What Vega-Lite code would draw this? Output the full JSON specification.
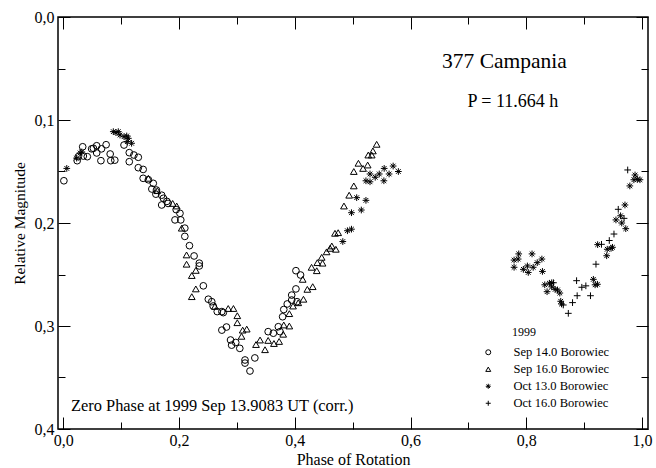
{
"$schema": "https://vega.github.io/schema/vega-lite/v6.json",
"width": 590, "height": 412,
"autosize": {"type": "none"},
"padding": {"left": 58, "top": 17, "right": 8, "bottom": 39},
"background": "white",
"config": {"view": {"stroke": "black", "strokeWidth": 1.5}, "font": "Liberation Serif"},
"datasets": {
"one": [{}],
"pts": [
{"s":"Sep 14.0 Borowiec","phase":0.001,"mag":0.159},{"s":"Sep 14.0 Borowiec","phase":0.024,"mag":0.1395},{"s":"Sep 14.0 Borowiec","phase":0.026,"mag":0.1356},{"s":"Sep 14.0 Borowiec","phase":0.0335,"mag":0.126},{"s":"Sep 14.0 Borowiec","phase":0.0346,"mag":0.135},{"s":"Sep 14.0 Borowiec","phase":0.0415,"mag":0.1356},{"s":"Sep 14.0 Borowiec","phase":0.049,"mag":0.128},{"s":"Sep 14.0 Borowiec","phase":0.052,"mag":0.1275},{"s":"Sep 14.0 Borowiec","phase":0.0577,"mag":0.125},{"s":"Sep 14.0 Borowiec","phase":0.0577,"mag":0.132},{"s":"Sep 14.0 Borowiec","phase":0.065,"mag":0.1395},{"s":"Sep 14.0 Borowiec","phase":0.066,"mag":0.128},{"s":"Sep 14.0 Borowiec","phase":0.074,"mag":0.124},{"s":"Sep 14.0 Borowiec","phase":0.081,"mag":0.133},{"s":"Sep 14.0 Borowiec","phase":0.082,"mag":0.1395},{"s":"Sep 14.0 Borowiec","phase":0.089,"mag":0.139},
{"s":"Sep 14.0 Borowiec","phase":0.1049,"mag":0.1243},{"s":"Sep 14.0 Borowiec","phase":0.114,"mag":0.1317},{"s":"Sep 14.0 Borowiec","phase":0.114,"mag":0.1405},{"s":"Sep 14.0 Borowiec","phase":0.122,"mag":0.134},{"s":"Sep 14.0 Borowiec","phase":0.1296,"mag":0.1362},{"s":"Sep 14.0 Borowiec","phase":0.1296,"mag":0.1463},{"s":"Sep 14.0 Borowiec","phase":0.138,"mag":0.148},{"s":"Sep 14.0 Borowiec","phase":0.138,"mag":0.1566},{"s":"Sep 14.0 Borowiec","phase":0.147,"mag":0.158},{"s":"Sep 14.0 Borowiec","phase":0.153,"mag":0.167},{"s":"Sep 14.0 Borowiec","phase":0.1555,"mag":0.1615},{"s":"Sep 14.0 Borowiec","phase":0.16,"mag":0.172},{"s":"Sep 14.0 Borowiec","phase":0.161,"mag":0.168},{"s":"Sep 14.0 Borowiec","phase":0.17,"mag":0.173},{"s":"Sep 14.0 Borowiec","phase":0.17,"mag":0.1825},{"s":"Sep 14.0 Borowiec","phase":0.173,"mag":0.176},{"s":"Sep 14.0 Borowiec","phase":0.179,"mag":0.179},{"s":"Sep 14.0 Borowiec","phase":0.181,"mag":0.181},{"s":"Sep 14.0 Borowiec","phase":0.193,"mag":0.197},{"s":"Sep 14.0 Borowiec","phase":0.195,"mag":0.187},{"s":"Sep 14.0 Borowiec","phase":0.2016,"mag":0.1906},{"s":"Sep 14.0 Borowiec","phase":0.203,"mag":0.197},{"s":"Sep 14.0 Borowiec","phase":0.21,"mag":0.205},{"s":"Sep 14.0 Borowiec","phase":0.21,"mag":0.213},
{"s":"Sep 14.0 Borowiec","phase":0.218,"mag":0.222},{"s":"Sep 14.0 Borowiec","phase":0.226,"mag":0.232},{"s":"Sep 14.0 Borowiec","phase":0.235,"mag":0.239},{"s":"Sep 14.0 Borowiec","phase":0.235,"mag":0.2417},{"s":"Sep 14.0 Borowiec","phase":0.242,"mag":0.261},{"s":"Sep 14.0 Borowiec","phase":0.2506,"mag":0.274},{"s":"Sep 14.0 Borowiec","phase":0.2565,"mag":0.2764},{"s":"Sep 14.0 Borowiec","phase":0.259,"mag":0.2806},{"s":"Sep 14.0 Borowiec","phase":0.266,"mag":0.286},{"s":"Sep 14.0 Borowiec","phase":0.274,"mag":0.286},{"s":"Sep 14.0 Borowiec","phase":0.2765,"mag":0.287},{"s":"Sep 14.0 Borowiec","phase":0.274,"mag":0.304},{"s":"Sep 14.0 Borowiec","phase":0.282,"mag":0.301},{"s":"Sep 14.0 Borowiec","phase":0.289,"mag":0.3136},{"s":"Sep 14.0 Borowiec","phase":0.2909,"mag":0.3186},{"s":"Sep 14.0 Borowiec","phase":0.298,"mag":0.316},{"s":"Sep 14.0 Borowiec","phase":0.305,"mag":0.3217},{"s":"Sep 14.0 Borowiec","phase":0.314,"mag":0.333},{"s":"Sep 14.0 Borowiec","phase":0.314,"mag":0.336},{"s":"Sep 14.0 Borowiec","phase":0.331,"mag":0.331},{"s":"Sep 14.0 Borowiec","phase":0.3226,"mag":0.3437},{"s":"Sep 14.0 Borowiec","phase":0.354,"mag":0.3055},{"s":"Sep 14.0 Borowiec","phase":0.363,"mag":0.307},{"s":"Sep 14.0 Borowiec","phase":0.3716,"mag":0.3007},{"s":"Sep 14.0 Borowiec","phase":0.3745,"mag":0.3055},{"s":"Sep 14.0 Borowiec","phase":0.379,"mag":0.291},{"s":"Sep 14.0 Borowiec","phase":0.381,"mag":0.284},{"s":"Sep 14.0 Borowiec","phase":0.387,"mag":0.2786},{"s":"Sep 14.0 Borowiec","phase":0.3947,"mag":0.2748},{"s":"Sep 14.0 Borowiec","phase":0.402,"mag":0.264},{"s":"Sep 14.0 Borowiec","phase":0.3947,"mag":0.27},{"s":"Sep 14.0 Borowiec","phase":0.404,"mag":0.2764},{"s":"Sep 14.0 Borowiec","phase":0.402,"mag":0.2463},{"s":"Sep 14.0 Borowiec","phase":0.41,"mag":0.2505},
{"s":"Sep 16.0 Borowiec","phase":0.147,"mag":0.1566},{"s":"Sep 16.0 Borowiec","phase":0.1625,"mag":0.1686},{"s":"Sep 16.0 Borowiec","phase":0.189,"mag":0.181},{"s":"Sep 16.0 Borowiec","phase":0.196,"mag":0.1835},{"s":"Sep 16.0 Borowiec","phase":0.2046,"mag":0.205},{"s":"Sep 16.0 Borowiec","phase":0.213,"mag":0.231},{"s":"Sep 16.0 Borowiec","phase":0.213,"mag":0.24},{"s":"Sep 16.0 Borowiec","phase":0.229,"mag":0.246},{"s":"Sep 16.0 Borowiec","phase":0.222,"mag":0.251},{"s":"Sep 16.0 Borowiec","phase":0.229,"mag":0.264},{"s":"Sep 16.0 Borowiec","phase":0.222,"mag":0.2715},{"s":"Sep 16.0 Borowiec","phase":0.262,"mag":0.281},{"s":"Sep 16.0 Borowiec","phase":0.285,"mag":0.283},{"s":"Sep 16.0 Borowiec","phase":0.294,"mag":0.283},{"s":"Sep 16.0 Borowiec","phase":0.3007,"mag":0.29},{"s":"Sep 16.0 Borowiec","phase":0.3007,"mag":0.2968},{"s":"Sep 16.0 Borowiec","phase":0.317,"mag":0.303},{"s":"Sep 16.0 Borowiec","phase":0.31,"mag":0.304},{"s":"Sep 16.0 Borowiec","phase":0.308,"mag":0.31},{"s":"Sep 16.0 Borowiec","phase":0.333,"mag":0.318},{"s":"Sep 16.0 Borowiec","phase":0.3486,"mag":0.323},{"s":"Sep 16.0 Borowiec","phase":0.34,"mag":0.3136},{"s":"Sep 16.0 Borowiec","phase":0.354,"mag":0.314},{"s":"Sep 16.0 Borowiec","phase":0.364,"mag":0.317},{"s":"Sep 16.0 Borowiec","phase":0.373,"mag":0.315},{"s":"Sep 16.0 Borowiec","phase":0.38,"mag":0.308},{"s":"Sep 16.0 Borowiec","phase":0.381,"mag":0.299},{"s":"Sep 16.0 Borowiec","phase":0.3906,"mag":0.3},{"s":"Sep 16.0 Borowiec","phase":0.3906,"mag":0.288},{"s":"Sep 16.0 Borowiec","phase":0.397,"mag":0.2806},{"s":"Sep 16.0 Borowiec","phase":0.406,"mag":0.2774},{"s":"Sep 16.0 Borowiec","phase":0.415,"mag":0.274},{"s":"Sep 16.0 Borowiec","phase":0.4137,"mag":0.2547},{"s":"Sep 16.0 Borowiec","phase":0.4217,"mag":0.2644},{"s":"Sep 16.0 Borowiec","phase":0.431,"mag":0.2618},{"s":"Sep 16.0 Borowiec","phase":0.429,"mag":0.243},{"s":"Sep 16.0 Borowiec","phase":0.438,"mag":0.2463},{"s":"Sep 16.0 Borowiec","phase":0.439,"mag":0.2385},{"s":"Sep 16.0 Borowiec","phase":0.4465,"mag":0.2333},{"s":"Sep 16.0 Borowiec","phase":0.448,"mag":0.239},{"s":"Sep 16.0 Borowiec","phase":0.455,"mag":0.228},{"s":"Sep 16.0 Borowiec","phase":0.461,"mag":0.2246},{"s":"Sep 16.0 Borowiec","phase":0.464,"mag":0.2223},{"s":"Sep 16.0 Borowiec","phase":0.471,"mag":0.2255},{"s":"Sep 16.0 Borowiec","phase":0.4695,"mag":0.21},{"s":"Sep 16.0 Borowiec","phase":0.475,"mag":0.2094},{"s":"Sep 16.0 Borowiec","phase":0.485,"mag":0.1835},{"s":"Sep 16.0 Borowiec","phase":0.494,"mag":0.173},{"s":"Sep 16.0 Borowiec","phase":0.502,"mag":0.164},{"s":"Sep 16.0 Borowiec","phase":0.502,"mag":0.15},{"s":"Sep 16.0 Borowiec","phase":0.51,"mag":0.142},{"s":"Sep 16.0 Borowiec","phase":0.518,"mag":0.147},{"s":"Sep 16.0 Borowiec","phase":0.526,"mag":0.1437},{"s":"Sep 16.0 Borowiec","phase":0.527,"mag":0.134},{"s":"Sep 16.0 Borowiec","phase":0.533,"mag":0.134},{"s":"Sep 16.0 Borowiec","phase":0.535,"mag":0.13},{"s":"Sep 16.0 Borowiec","phase":0.5415,"mag":0.1236},
{"s":"Oct 13.0 Borowiec","phase":0.006,"mag":0.147},{"s":"Oct 13.0 Borowiec","phase":0.023,"mag":0.137},{"s":"Oct 13.0 Borowiec","phase":0.029,"mag":0.132},{"s":"Oct 13.0 Borowiec","phase":0.032,"mag":0.131},{"s":"Oct 13.0 Borowiec","phase":0.0864,"mag":0.1113},{"s":"Oct 13.0 Borowiec","phase":0.091,"mag":0.1123},{"s":"Oct 13.0 Borowiec","phase":0.095,"mag":0.1113},{"s":"Oct 13.0 Borowiec","phase":0.098,"mag":0.1146},{"s":"Oct 13.0 Borowiec","phase":0.105,"mag":0.1162},{"s":"Oct 13.0 Borowiec","phase":0.1096,"mag":0.1155},{"s":"Oct 13.0 Borowiec","phase":0.1124,"mag":0.1178},{"s":"Oct 13.0 Borowiec","phase":0.1106,"mag":0.121},{"s":"Oct 13.0 Borowiec","phase":0.118,"mag":0.1226},
{"s":"Oct 13.0 Borowiec","phase":0.483,"mag":0.218},{"s":"Oct 13.0 Borowiec","phase":0.491,"mag":0.2075},{"s":"Oct 13.0 Borowiec","phase":0.498,"mag":0.206},{"s":"Oct 13.0 Borowiec","phase":0.498,"mag":0.19},{"s":"Oct 13.0 Borowiec","phase":0.507,"mag":0.1754},{"s":"Oct 13.0 Borowiec","phase":0.515,"mag":0.1874},{"s":"Oct 13.0 Borowiec","phase":0.523,"mag":0.178},{"s":"Oct 13.0 Borowiec","phase":0.523,"mag":0.159},{"s":"Oct 13.0 Borowiec","phase":0.53,"mag":0.16},{"s":"Oct 13.0 Borowiec","phase":0.53,"mag":0.1524},{"s":"Oct 13.0 Borowiec","phase":0.539,"mag":0.1556},{"s":"Oct 13.0 Borowiec","phase":0.546,"mag":0.1524},{"s":"Oct 13.0 Borowiec","phase":0.554,"mag":0.159},{"s":"Oct 13.0 Borowiec","phase":0.5545,"mag":0.147},{"s":"Oct 13.0 Borowiec","phase":0.563,"mag":0.1524},{"s":"Oct 13.0 Borowiec","phase":0.57,"mag":0.1447},{"s":"Oct 13.0 Borowiec","phase":0.579,"mag":0.15},
{"s":"Oct 13.0 Borowiec","phase":0.779,"mag":0.236},{"s":"Oct 13.0 Borowiec","phase":0.786,"mag":0.235},{"s":"Oct 13.0 Borowiec","phase":0.787,"mag":0.23},{"s":"Oct 13.0 Borowiec","phase":0.779,"mag":0.243},{"s":"Oct 13.0 Borowiec","phase":0.795,"mag":0.245},{"s":"Oct 13.0 Borowiec","phase":0.802,"mag":0.2417},{"s":"Oct 13.0 Borowiec","phase":0.8035,"mag":0.248},{"s":"Oct 13.0 Borowiec","phase":0.81,"mag":0.23},{"s":"Oct 13.0 Borowiec","phase":0.812,"mag":0.243},{"s":"Oct 13.0 Borowiec","phase":0.819,"mag":0.2385},{"s":"Oct 13.0 Borowiec","phase":0.827,"mag":0.235},{"s":"Oct 13.0 Borowiec","phase":0.828,"mag":0.247},
{"s":"Oct 13.0 Borowiec","phase":0.832,"mag":0.26},{"s":"Oct 13.0 Borowiec","phase":0.836,"mag":0.2667},{"s":"Oct 13.0 Borowiec","phase":0.84,"mag":0.2585},{"s":"Oct 13.0 Borowiec","phase":0.844,"mag":0.258},{"s":"Oct 13.0 Borowiec","phase":0.844,"mag":0.262},{"s":"Oct 13.0 Borowiec","phase":0.85,"mag":0.2644},{"s":"Oct 13.0 Borowiec","phase":0.854,"mag":0.265},{"s":"Oct 13.0 Borowiec","phase":0.858,"mag":0.268},{"s":"Oct 13.0 Borowiec","phase":0.8596,"mag":0.276},{"s":"Oct 13.0 Borowiec","phase":0.861,"mag":0.2786},
{"s":"Oct 13.0 Borowiec","phase":0.916,"mag":0.2547},{"s":"Oct 13.0 Borowiec","phase":0.919,"mag":0.26},{"s":"Oct 13.0 Borowiec","phase":0.923,"mag":0.2595},{"s":"Oct 13.0 Borowiec","phase":0.9234,"mag":0.221},{"s":"Oct 13.0 Borowiec","phase":0.939,"mag":0.2318},{"s":"Oct 13.0 Borowiec","phase":0.94,"mag":0.2255},{"s":"Oct 13.0 Borowiec","phase":0.9465,"mag":0.2246},{"s":"Oct 13.0 Borowiec","phase":0.949,"mag":0.2236},{"s":"Oct 13.0 Borowiec","phase":0.955,"mag":0.197},{"s":"Oct 13.0 Borowiec","phase":0.963,"mag":0.193},{"s":"Oct 13.0 Borowiec","phase":0.965,"mag":0.2},{"s":"Oct 13.0 Borowiec","phase":0.9706,"mag":0.1825},{"s":"Oct 13.0 Borowiec","phase":0.972,"mag":0.2055},{"s":"Oct 13.0 Borowiec","phase":0.979,"mag":0.164},{"s":"Oct 13.0 Borowiec","phase":0.988,"mag":0.1534},{"s":"Oct 13.0 Borowiec","phase":0.986,"mag":0.158},{"s":"Oct 13.0 Borowiec","phase":0.992,"mag":0.1576},{"s":"Oct 13.0 Borowiec","phase":0.9965,"mag":0.158},
{"s":"Oct 16.0 Borowiec","phase":0.847,"mag":0.258},{"s":"Oct 16.0 Borowiec","phase":0.864,"mag":0.2796},{"s":"Oct 16.0 Borowiec","phase":0.8727,"mag":0.2877},{"s":"Oct 16.0 Borowiec","phase":0.88,"mag":0.2773},{"s":"Oct 16.0 Borowiec","phase":0.887,"mag":0.256},{"s":"Oct 16.0 Borowiec","phase":0.888,"mag":0.2706},{"s":"Oct 16.0 Borowiec","phase":0.896,"mag":0.2624},{"s":"Oct 16.0 Borowiec","phase":0.903,"mag":0.261},{"s":"Oct 16.0 Borowiec","phase":0.911,"mag":0.2706},{"s":"Oct 16.0 Borowiec","phase":0.9205,"mag":0.24},{"s":"Oct 16.0 Borowiec","phase":0.93,"mag":0.2207},{"s":"Oct 16.0 Borowiec","phase":0.9435,"mag":0.217},{"s":"Oct 16.0 Borowiec","phase":0.9516,"mag":0.2107},{"s":"Oct 16.0 Borowiec","phase":0.959,"mag":0.1867},{"s":"Oct 16.0 Borowiec","phase":0.969,"mag":0.1955},{"s":"Oct 16.0 Borowiec","phase":0.9753,"mag":0.1485}
]
},
"layer": [
{
"data": {"name": "pts"},
"mark": {"type": "point", "filled": false, "stroke": "black", "size": 45, "opacity": 1},
"encoding": {
"x": {"field": "phase", "type": "quantitative",
 "scale": {"domain": [-0.00916, 1.0104], "nice": false, "zero": false},
 "axis": {"orient": "bottom", "values": [0,0.1,0.2,0.3,0.4,0.5,0.6,0.7,0.8,0.9,1.0], "domain": false, "grid": false,
  "tickColor": "black", "tickWidth": 1,
  "tickSize": {"condition": {"test": "round(datum.value*10) % 2 == 1", "value": -7}, "value": -12},
  "labelExpr": "round(datum.value*10) % 2 == 1 ? '' : replace(format(datum.value, '.1f'), '.', ',')",
  "labelFont": "Liberation Serif", "labelFontSize": 16, "labelColor": "black", "labelPadding": 15,
  "title": "Phase of Rotation", "titleFont": "Liberation Serif", "titleFontSize": 16, "titleFontWeight": "normal", "titleColor": "black", "titlePadding": 3}},
"y": {"field": "mag", "type": "quantitative",
 "scale": {"domain": [0, 0.4], "reverse": true, "nice": false, "zero": false},
 "axis": {"orient": "left", "values": [0,0.05,0.1,0.15,0.2,0.25,0.3,0.35,0.4], "domain": false, "grid": false,
  "tickColor": "black", "tickWidth": 1,
  "tickSize": {"condition": {"test": "round(datum.value*20) % 2 == 1", "value": -7}, "value": -12},
  "labelExpr": "round(datum.value*20) % 2 == 1 ? '' : replace(format(datum.value, '.1f'), '.', ',')",
  "labelFont": "Liberation Serif", "labelFontSize": 16, "labelColor": "black", "labelPadding": 16,
  "title": "Relative Magnitude", "titleFont": "Liberation Serif", "titleFontSize": 15.5, "titleFontWeight": "normal", "titleColor": "black", "titlePadding": 7}},
"strokeWidth": {"field": "s", "type": "nominal", "legend": null,
 "scale": {"domain": ["Sep 14.0 Borowiec","Sep 16.0 Borowiec","Oct 13.0 Borowiec","Oct 16.0 Borowiec"], "range": [1, 1, 1.6, 1]}},
"shape": {"field": "s", "type": "nominal",
 "scale": {"domain": ["Sep 14.0 Borowiec","Sep 16.0 Borowiec","Oct 13.0 Borowiec","Oct 16.0 Borowiec"],
  "range": ["circle", "triangle-up", "M-1,0L1,0M0,-1L0,1M-0.7,-0.7L0.7,0.7M-0.7,0.7L0.7,-0.7", "M-1,0L1,0M0,-1L0,1"]},
 "legend": {"orient": "none", "legendX": 424, "legendY": 329, "title": null,
  "labelFont": "Liberation Serif", "labelFontSize": 12.5, "labelColor": "black", "symbolSize": 25, "symbolStrokeColor": "black", "symbolStrokeWidth": 1, "symbolFillColor": "transparent", "rowPadding": 4, "labelOffset": 19, "padding": 0}}
}
},
{
"data": {"name": "one"},
"mark": {"type": "text", "font": "Liberation Serif", "fontSize": 21.5, "color": "black", "align": "center", "baseline": "middle"},
"encoding": {
"x": {"datum": 0.7624, "type": "quantitative", "axis": {"orient": "top", "values": [0,0.1,0.2,0.3,0.4,0.5,0.6,0.7,0.8,0.9,1.0], "domain": false, "grid": false, "labels": false, "title": null, "tickColor": "black", "tickWidth": 1, "tickSize": {"condition": {"test": "round(datum.value*10) % 2 == 1", "value": -7}, "value": -12}}},
"y": {"datum": 0.0437, "type": "quantitative", "axis": {"orient": "right", "values": [0,0.05,0.1,0.15,0.2,0.25,0.3,0.35,0.4], "domain": false, "grid": false, "labels": false, "title": null, "tickColor": "black", "tickWidth": 1, "tickSize": {"condition": {"test": "round(datum.value*20) % 2 == 1", "value": -7}, "value": -12}}},
"text": {"value": "377 Campania"}
}
},
{
"data": {"name": "one"},
"mark": {"type": "text", "font": "Liberation Serif", "fontSize": 18, "color": "black", "align": "center", "baseline": "middle"},
"encoding": {
"x": {"datum": 0.777, "type": "quantitative", "axis": null},
"y": {"datum": 0.0825, "type": "quantitative", "axis": null},
"text": {"value": "P = 11.664 h"}
}
},
{
"data": {"name": "one"},
"mark": {"type": "text", "font": "Liberation Serif", "fontSize": 16.4, "color": "black", "align": "left", "baseline": "middle"},
"encoding": {
"x": {"datum": 0.0133, "type": "quantitative", "axis": null},
"y": {"datum": 0.3777, "type": "quantitative", "axis": null},
"text": {"value": "Zero Phase at 1999 Sep 13.9083 UT (corr.)"}
}
},
{
"data": {"name": "one"},
"mark": {"type": "text", "font": "Liberation Serif", "fontSize": 12, "color": "black", "align": "left", "baseline": "middle"},
"encoding": {
"x": {"datum": 0.7754, "type": "quantitative", "axis": null},
"y": {"datum": 0.3058, "type": "quantitative", "axis": null},
"text": {"value": "1999"}
}
}
],
"resolve": {"axis": {"x": "independent", "y": "independent"}}
}
